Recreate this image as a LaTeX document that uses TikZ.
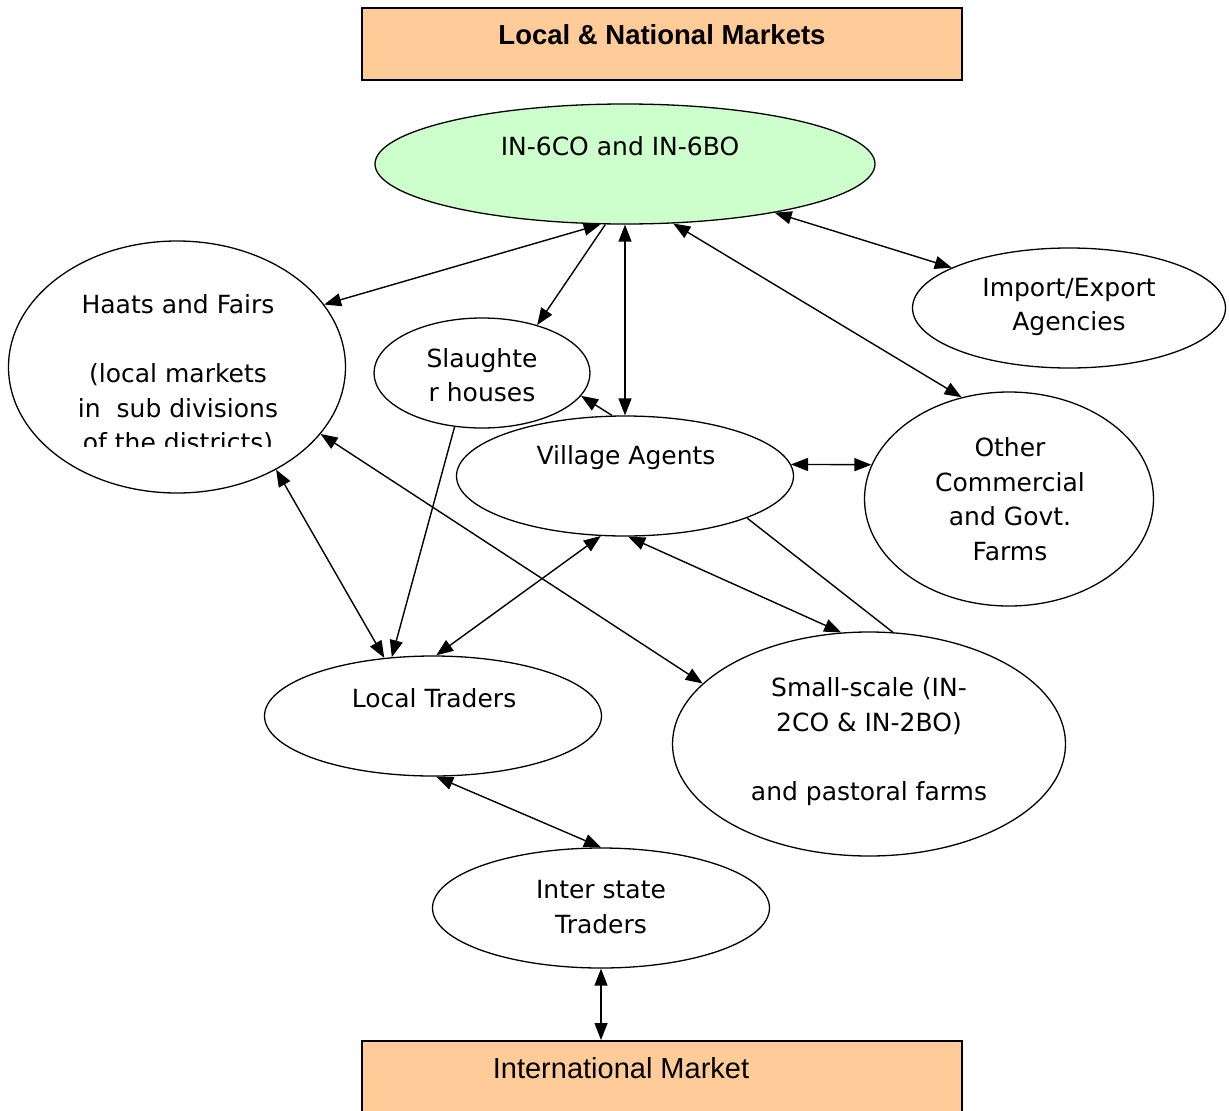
\documentclass[tikz,border=0pt]{standalone}
\usepackage{fontspec}
\setmainfont{DejaVu Sans}
\newfontfamily\boxfont{Liberation Sans}
\usetikzlibrary{arrows.meta, shapes.geometric}
\definecolor{peach}{HTML}{FFCC99}
\definecolor{mint}{HTML}{CCFFCC}

\begin{document}
\begin{tikzpicture}[x=1pt, y=-1pt,
    market/.style={rectangle, draw, line width=1.5pt, fill=peach, minimum width=600pt, minimum height=72pt},
    place/.style={ellipse, draw, line width=1.3pt, inner sep=0pt},
    lbl/.style={align=center, inner sep=0pt, font=\fontsize{25}{34.5}\selectfont},
    link/.style={{Triangle[length=17pt,width=13pt]}-{Triangle[length=17pt,width=13pt]}, line width=1.4pt},
    oneway/.style={-{Triangle[length=17pt,width=13pt]}, line width=1.4pt}
]
\useasboundingbox (0,0) rectangle (1229,1111);

% markets
\node[market] (natmkt) at (662,44) {};
\node[lbl, font=\boxfont\bfseries\fontsize{27.5}{32}\selectfont] (natmkt-t) at (662,35) {Local \& National Markets};
\node[market, minimum height=80pt, anchor=north] (intl) at (662,1040) {};
\node[lbl, font=\boxfont\fontsize{29}{32}\selectfont] (intl-t) at (621,1068) {International Market};

% ellipses
\node[place, fill=mint, minimum width=500pt, minimum height=120pt] (farms6) at (625,164) {};
\node[lbl] (farms6-t) at (620,146) {IN-6CO and IN-6BO};

\node[place, minimum width=337pt, minimum height=252pt] (haats) at (177,367) {};
\begin{scope}
\clip (10,250) rectangle (346,446);
\node[lbl] (haats-t) at (178,375) {Haats and Fairs\\[34.5pt](local markets\\in\ \ sub divisions\\of the districts)};
\end{scope}

\node[place, minimum width=216pt, minimum height=110pt] (slaughter) at (482,373) {};
\node[lbl] (slaughter-t) at (482,375) {Slaughte\\r houses};

\node[place, minimum width=313pt, minimum height=120pt] (impex) at (1069,308) {};
\node[lbl] (impex-t) at (1069,307) {Import/Export\\Agencies};

\node[place, minimum width=337pt, minimum height=120pt] (agents) at (625,476) {};
\node[lbl] (agents-t) at (626,458) {Village Agents};

\node[place, minimum width=289pt, minimum height=214pt] (other) at (1009,499) {};
\node[lbl] (other-t) at (1010,499) {Other\\Commercial\\and Govt.\\Farms};

\node[place, minimum width=337pt, minimum height=120pt] (traders) at (433,716) {};
\node[lbl] (traders-t) at (434,698) {Local Traders};

\node[place, minimum width=393pt, minimum height=224pt] (small) at (869,744) {};
\node[lbl] (small-t) at (869,741.5) {Small-scale (IN-\\2CO \& IN-2BO)\\[34.5pt]and pastoral farms};

\node[place, minimum width=337pt, minimum height=120pt] (inter) at (601,908) {};
\node[lbl] (inter-t) at (601,907) {Inter state\\Traders};

% connectors
\draw[link] (farms6.248) -- (haats.23);
\draw[oneway] (farms6.252) -- (slaughter.41);
\draw[link] (farms6.south) -- (agents.north);
\draw[oneway] (agents.102) -- (slaughter.347);
\draw[link] (farms6.342) -- (impex.161);
\draw[link] (farms6.309) -- (other.115);
\draw[link] (agents.4) -- (other.166);
\draw[link] (haats.314) -- (traders.130);
\draw[link] (haats.335) -- (small.160);
\draw[oneway] (slaughter.243) -- (traders.125);
\draw[link] (agents.248) -- (traders.87);
\draw[link] (agents.273) -- (small.104);
\draw[line width=1.4pt] (agents.341) -- (small.78);
\draw[link] (traders.273) -- (inter.north);
\draw[link] (inter.south) -- (inter.south |- intl.north);
\end{tikzpicture}
\end{document}
